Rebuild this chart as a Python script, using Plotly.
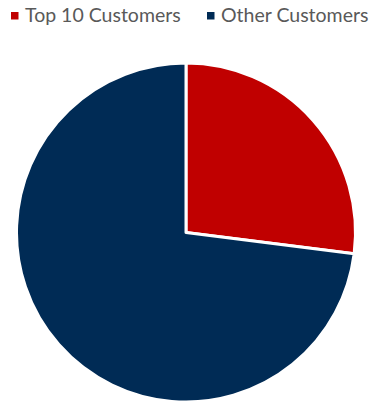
import plotly.graph_objects as go

labels = ["Top 10 Customers", "Other Customers"]
values = [27, 73]
colors = ["#C00000", "#002B55"]

W, H = 370, 402

fig = go.Figure(go.Pie(
    labels=labels, values=values, sort=False, direction="clockwise", rotation=0,
    marker=dict(colors=colors, line=dict(color="white", width=3)),
    textinfo="none", hoverinfo="label+value", showlegend=False,
    domain=dict(x=[16/W, 356/W], y=[0, 1 - 63/H]),
))

# custom legend (Excel-like single row)
sq_x = [11, 207]
txt_x = [23, 219]
for lab, col, sx, tx in zip(labels, colors, sq_x, txt_x):
    fig.add_shape(type="rect", xref="paper", yref="paper",
                  x0=sx/W, x1=(sx+7.5)/W, y0=1-19.5/H, y1=1-12/H,
                  fillcolor=col, line=dict(width=0))
    fig.add_annotation(text=lab, xref="paper", yref="paper", x=tx/W, y=1-15/H,
                       xanchor="left", yanchor="middle", showarrow=False,
                       font=dict(family="Lato", size=19.5, color="#595959"))

fig.update_layout(
    width=W, height=H, margin=dict(l=0, r=0, t=0, b=0),
    paper_bgcolor="white", plot_bgcolor="white",
)
fig.write_html("out.html")
